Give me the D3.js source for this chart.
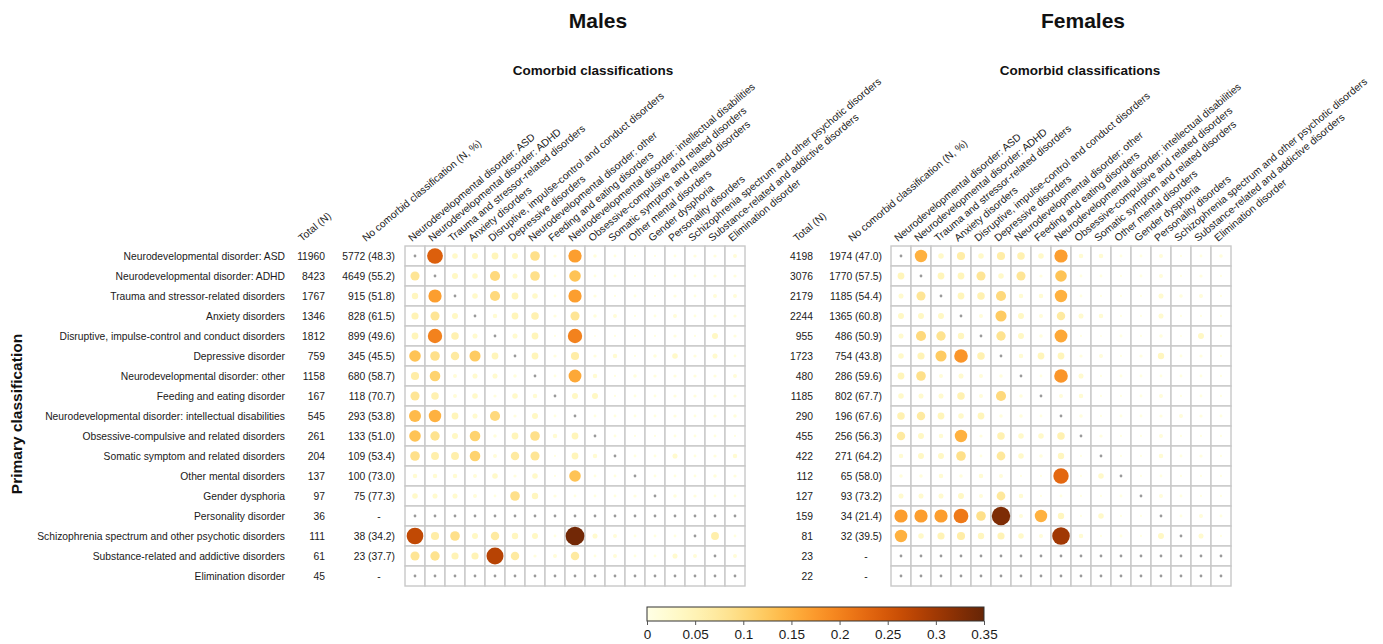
<!DOCTYPE html>
<html>
<head>
<meta charset="utf-8">
<script src="https://cdn.jsdelivr.net/npm/d3@7"></script>
<style>
  html, body { margin: 0; padding: 0; background: #fff; }
  svg { display: block; font-family: "Liberation Sans", Arial, Helvetica, sans-serif; }
</style>
</head>
<body>
<svg id="chart" width="1383" height="644"></svg>
<script>
// Primary classification (rows)
const primaryClasses = [
  "Neurodevelopmental disorder: ASD",
  "Neurodevelopmental disorder: ADHD",
  "Trauma and stressor-related disorders",
  "Anxiety disorders",
  "Disruptive, impulse-control and conduct disorders",
  "Depressive disorder",
  "Neurodevelopmental disorder: other",
  "Feeding and eating disorder",
  "Neurodevelopmental disorder: intellectual disabilities",
  "Obsessive-compulsive and related disorders",
  "Somatic symptom and related disorders",
  "Other mental disorders",
  "Gender dysphoria",
  "Personality disorder",
  "Schizophrenia spectrum and other psychotic disorders",
  "Substance-related and addictive disorders",
  "Elimination disorder"
];

// Comorbid classification (columns)
const comorbidClasses = [
  "Neurodevelopmental disorder: ASD",
  "Neurodevelopmental disorder: ADHD",
  "Trauma and stressor-related disorders",
  "Anxiety disorders",
  "Disruptive, impulse-control and conduct disorders",
  "Depressive disorders",
  "Neurodevelopmental disorder: other",
  "Feeding and eating disorders",
  "Neurodevelopmental disorder: intellectual disabilities",
  "Obsessive-compulsive and related disorders",
  "Somatic symptom and related disorders",
  "Other mental disorders",
  "Gender dysphoria",
  "Personality disorders",
  "Schizophrenia spectrum and other psychotic disorders",
  "Substance-related and addictive disorders",
  "Elimination disorder"
];

// Males: totals and patients without a comorbid classification
const maleTotal = [11960, 8423, 1767, 1346, 1812, 759, 1158, 167, 545, 261, 204, 137, 97, 36, 111, 61, 45];
const maleNoneN = [5772, 4649, 915, 828, 899, 345, 680, 118, 293, 133, 109, 100, 75, null, 38, 23, null];
const maleNonePct = [48.3, 55.2, 51.8, 61.5, 49.6, 45.5, 58.7, 70.7, 53.8, 51.0, 53.4, 73.0, 77.3, null, 34.2, 37.7, null];

// Females: totals and patients without a comorbid classification
const femaleTotal = [4198, 3076, 2179, 2244, 955, 1723, 480, 1185, 290, 455, 422, 112, 127, 159, 81, 23, 22];
const femaleNoneN = [1974, 1770, 1185, 1365, 486, 754, 286, 802, 196, 256, 271, 65, 93, 34, 32, null, null];
const femaleNonePct = [47.0, 57.5, 54.4, 60.8, 50.9, 43.8, 59.6, 67.7, 67.6, 56.3, 64.2, 58.0, 73.2, 21.4, 39.5, null, null];

// Proportion with each comorbid classification (null = not estimated)
const maleProportion = [
  [null, 0.24, 0.03, 0.035, 0.045, 0.035, 0.09, 0.01, 0.17, 0.012, 0.008, 0.005, 0.005, 0.008, 0.01, 0.01, 0.015],
  [0.08, null, 0.035, 0.03, 0.1, 0.025, 0.09, 0.008, 0.13, 0.008, 0.008, 0.005, 0.005, 0.008, 0.008, 0.01, 0.01],
  [0.04, 0.17, null, 0.03, 0.1, 0.045, 0.03, 0.008, 0.17, 0.01, 0.005, 0.008, 0.005, 0.01, 0.008, 0.015, 0.015],
  [0.05, 0.08, 0.035, null, 0.02, 0.045, 0.055, 0.01, 0.08, 0.012, 0.015, 0.005, 0.008, 0.015, 0.008, 0.01, 0.01],
  [0.045, 0.2, 0.055, 0.025, null, 0.025, 0.045, 0.005, 0.2, 0.003, 0.005, 0.005, 0.005, 0.01, 0.005, 0.035, 0.01],
  [0.13, 0.09, 0.07, 0.12, 0.045, null, 0.045, 0.01, 0.065, 0.01, 0.02, 0.005, 0.012, 0.03, 0.01, 0.025, 0.008],
  [0.065, 0.11, 0.015, 0.025, 0.025, 0.012, null, 0.008, 0.16, 0.02, 0.005, 0.012, 0.01, 0.01, 0.01, 0.01, 0.015],
  [0.08, 0.055, 0.015, 0.03, 0.01, 0.03, 0.02, null, 0.035, 0.035, 0.005, 0.008, 0.008, 0.01, 0.01, 0.01, 0.01],
  [0.14, 0.15, 0.045, 0.025, 0.1, 0.01, 0.035, 0.008, null, 0.008, 0.008, 0.008, 0.008, 0.01, 0.008, 0.01, 0.012],
  [0.13, 0.085, 0.035, 0.11, 0.012, 0.045, 0.09, 0.02, 0.045, null, 0.008, 0.005, 0.005, 0.008, 0.008, 0.008, 0.005],
  [0.09, 0.06, 0.06, 0.11, 0.015, 0.07, 0.08, 0.005, 0.045, 0.02, null, 0.008, 0.008, 0.025, 0.008, 0.01, 0.02],
  [0.02, 0.02, 0.02, 0.015, 0.03, 0.01, 0.03, 0.005, 0.13, 0.008, 0.008, null, 0.008, 0.008, 0.008, 0.012, 0.01],
  [0.03, 0.025, 0.025, 0.015, 0.008, 0.09, 0.04, 0.01, 0.008, 0.008, 0.008, 0.01, null, 0.012, 0.01, 0.008, 0.008],
  [null, null, null, null, null, null, null, null, null, null, null, null, null, null, null, null, null],
  [0.27, 0.065, 0.09, 0.035, 0.07, 0.04, 0.035, 0.008, 0.34, 0.025, 0.015, 0.008, 0.008, 0.008, null, 0.06, 0.008],
  [0.08, 0.085, 0.05, 0.05, 0.28, 0.07, 0.01, 0.015, 0.07, 0.008, 0.015, 0.008, 0.008, 0.025, 0.015, null, 0.015],
  [null, null, null, null, null, null, null, null, null, null, null, null, null, null, null, null, null]
];

const femaleProportion = [
  [null, 0.15, 0.03, 0.065, 0.03, 0.065, 0.055, 0.03, 0.17, 0.02, 0.02, 0.008, 0.008, 0.015, 0.005, 0.008, 0.012],
  [0.045, null, 0.045, 0.045, 0.08, 0.03, 0.08, 0.01, 0.13, 0.008, 0.008, 0.005, 0.008, 0.015, 0.005, 0.01, 0.005],
  [0.025, 0.08, null, 0.045, 0.055, 0.1, 0.02, 0.02, 0.15, 0.008, 0.005, 0.005, 0.005, 0.025, 0.012, 0.015, 0.005],
  [0.035, 0.035, 0.035, null, 0.015, 0.12, 0.035, 0.015, 0.07, 0.025, 0.02, 0.005, 0.005, 0.025, 0.005, 0.005, 0.005],
  [0.025, 0.1, 0.085, 0.04, null, 0.085, 0.035, 0.012, 0.16, 0.005, 0.003, 0.008, 0.005, 0.012, 0.003, 0.035, 0.005],
  [0.03, 0.05, 0.12, 0.18, 0.055, null, 0.02, 0.045, 0.045, 0.01, 0.015, 0.005, 0.01, 0.04, 0.008, 0.01, 0.005],
  [0.045, 0.09, 0.015, 0.025, 0.015, 0.012, null, 0.008, 0.18, 0.025, 0.005, 0.008, 0.008, 0.008, 0.008, 0.008, 0.005],
  [0.03, 0.025, 0.025, 0.055, 0.015, 0.1, 0.012, null, 0.015, 0.02, 0.005, 0.005, 0.008, 0.015, 0.005, 0.008, 0.005],
  [0.055, 0.07, 0.045, 0.03, 0.045, 0.012, 0.012, 0.008, null, 0.012, 0.005, 0.008, 0.008, 0.01, 0.015, 0.01, 0.008],
  [0.07, 0.035, 0.02, 0.15, 0.01, 0.055, 0.03, 0.03, 0.055, null, 0.01, 0.005, 0.005, 0.015, 0.005, 0.005, 0.005],
  [0.02, 0.035, 0.035, 0.09, 0.008, 0.075, 0.03, 0.012, 0.04, 0.005, null, 0.005, 0.005, 0.02, 0.008, 0.01, 0.005],
  [0.012, 0.012, 0.02, 0.012, 0.02, 0.015, 0.005, 0.005, 0.23, 0.005, 0.03, null, 0.005, 0.008, 0.005, 0.005, 0.005],
  [0.025, 0.025, 0.025, 0.035, 0.015, 0.075, 0.02, 0.005, 0.008, 0.005, 0.005, 0.008, null, 0.015, 0.008, 0.005, 0.005],
  [0.17, 0.17, 0.17, 0.21, 0.09, 0.33, 0.015, 0.15, 0.04, 0.005, 0.03, 0.005, 0.005, null, 0.008, 0.015, 0.008],
  [0.15, 0.03, 0.05, 0.065, 0.04, 0.05, 0.03, 0.015, 0.3, 0.02, 0.005, 0.008, 0.005, 0.035, null, 0.025, 0.005],
  [null, null, null, null, null, null, null, null, null, null, null, null, null, null, null, null, null],
  [null, null, null, null, null, null, null, null, null, null, null, null, null, null, null, null, null]
];

const legendTicks = [0, 0.05, 0.1, 0.15, 0.2, 0.25, 0.3, 0.35];

// ---- drawing ----
const svg = d3.select("#chart");
const textColor = "#1a1a1a";
const labelSize = "10.3px";
const headAngle = -40;
const gridTop = 246, cellSize = 20, nRows = primaryClasses.length, nCols = comorbidClasses.length;

const color = d3.scaleSequential(d3.interpolateYlOrBr).domain([0, 0.35]);
const radius = d3.scaleSqrt().domain([0, 0.35]).range([0, 9.5]);
const y = d3.scaleBand().domain(d3.range(nRows)).range([gridTop, gridTop + nRows * cellSize]);

const panels = [
  { title: "Males", titleX: 598, subX: 593, gridLeft: 405, totalX: 325, noneX: 395,
    totalHead: 302, noneHead: 366, totals: maleTotal, noneN: maleNoneN, nonePct: maleNonePct,
    values: maleProportion, rowLabels: true },
  { title: "Females", titleX: 1083, subX: 1080, gridLeft: 891, totalX: 813, noneX: 882,
    totalHead: 797, noneHead: 852, totals: femaleTotal, noneN: femaleNoneN, nonePct: femaleNonePct,
    values: femaleProportion, rowLabels: false }
];

panels.forEach(p => {
  const g = svg.append("g");
  const x = d3.scaleBand().domain(d3.range(nCols)).range([p.gridLeft, p.gridLeft + nCols * cellSize]);

  g.append("text").attr("x", p.titleX).attr("y", 28).attr("text-anchor", "middle")
    .attr("font-size", "21px").attr("font-weight", "bold").attr("fill", "#111").text(p.title);
  g.append("text").attr("x", p.subX).attr("y", 75).attr("text-anchor", "middle")
    .attr("font-size", "13.5px").attr("font-weight", "bold").attr("fill", "#111").text("Comorbid classifications");

  // rotated column headers
  const heads = [{ text: "Total (N)", x: p.totalHead }, { text: "No comorbid classification (N, %)", x: p.noneHead }]
    .concat(comorbidClasses.map((c, j) => ({ text: c, x: x(j) + x.bandwidth() / 2 - 3 })));
  g.selectAll("text.head").data(heads).join("text").attr("class", "head")
    .attr("transform", d => `translate(${d.x},242) rotate(${headAngle})`)
    .attr("font-size", labelSize).attr("fill", textColor).text(d => d.text);

  if (p.rowLabels) {
    g.selectAll("text.row").data(primaryClasses).join("text").attr("class", "row")
      .attr("x", 285).attr("y", (d, i) => y(i) + cellSize / 2).attr("dy", "0.35em")
      .attr("text-anchor", "end").attr("font-size", labelSize).attr("fill", textColor).text(d => d);
  }
  g.selectAll("text.total").data(p.totals).join("text").attr("class", "total")
    .attr("x", p.totalX).attr("y", (d, i) => y(i) + cellSize / 2).attr("dy", "0.35em")
    .attr("text-anchor", "end").attr("font-size", labelSize).attr("fill", textColor).text(d => d);
  g.selectAll("text.none").data(p.noneN).join("text").attr("class", "none")
    .attr("x", (d) => d == null ? p.noneX - 16 : p.noneX).attr("y", (d, i) => y(i) + cellSize / 2).attr("dy", "0.35em")
    .attr("text-anchor", d => d == null ? "middle" : "end").attr("font-size", labelSize).attr("fill", textColor)
    .text((d, i) => d == null ? "-" : `${d} (${p.nonePct[i].toFixed(1)})`);

  const cells = [];
  p.values.forEach((row, i) => row.forEach((v, j) => cells.push({ i, j, v })));

  g.selectAll("rect.cell").data(cells).join("rect").attr("class", "cell")
    .attr("x", d => x(d.j)).attr("y", d => y(d.i))
    .attr("width", x.bandwidth()).attr("height", y.bandwidth())
    .attr("fill", "#fff").attr("stroke", "#c8c8c8").attr("stroke-width", 1.4);

  g.selectAll("circle.dot").data(cells).join("circle").attr("class", "dot")
    .attr("cx", d => x(d.j) + x.bandwidth() / 2).attr("cy", d => y(d.i) + y.bandwidth() / 2)
    .attr("r", d => d.v == null ? 1.4 : Math.max(1, radius(d.v)))
    .attr("fill", d => d.v == null ? "#9a9a9a" : color(d.v));
});

// axis title for rows
svg.append("text").attr("transform", "translate(22,414) rotate(-90)").attr("text-anchor", "middle")
  .attr("font-size", "15.5px").attr("font-weight", "bold").attr("fill", "#111").text("Primary classification");

// colour legend
const legX = d3.scaleLinear().domain([0, 0.35]).range([647, 984]);
const defs = svg.append("defs");
const grad = defs.append("linearGradient").attr("id", "legendGrad");
d3.range(0, 1.0001, 0.05).forEach(t => {
  grad.append("stop").attr("offset", `${t * 100}%`).attr("stop-color", color(t * 0.35));
});
svg.append("rect").attr("x", 647).attr("y", 607).attr("width", 984 - 647).attr("height", 14)
  .attr("fill", "url(#legendGrad)").attr("stroke", "#333").attr("stroke-width", 1);
const legAxis = d3.axisBottom(legX).tickValues(legendTicks).tickSize(4)
  .tickFormat(d => d === 0 ? "0" : String(+d.toFixed(2)));
const ax = svg.append("g").attr("transform", "translate(0,621)").call(legAxis);
ax.select(".domain").remove();
ax.selectAll(".tick line").attr("stroke", "#555");
ax.selectAll(".tick text").attr("font-size", "13.5px").attr("fill", textColor)
  .attr("y", 17.5).attr("dy", "0")
  .attr("font-family", "\"Liberation Sans\", Arial, sans-serif");
</script>
</body>
</html>
